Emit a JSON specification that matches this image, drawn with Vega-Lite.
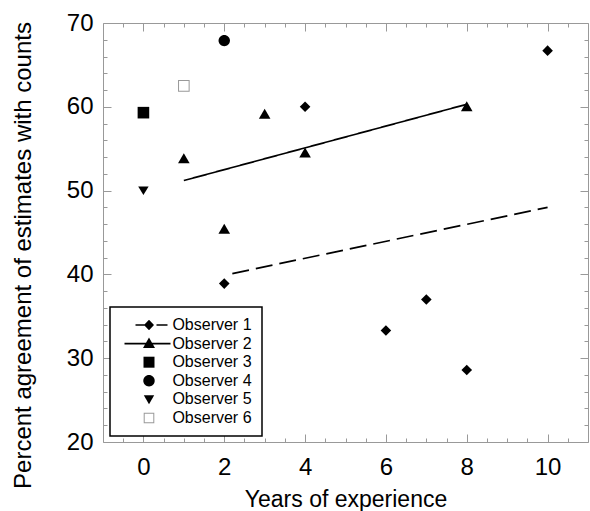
{
  "$schema": "https://vega.github.io/schema/vega-lite/v6.json",
  "width": 485,
  "height": 419,
  "autosize": {"type": "none"},
  "padding": {"left": 103, "top": 23, "right": 2, "bottom": 69},
  "background": "white",
  "datasets": {
    "pts": [
      {"observer": "Observer 1", "years": 2, "pct": 38.9},
      {"observer": "Observer 1", "years": 4, "pct": 60.0},
      {"observer": "Observer 1", "years": 6, "pct": 33.3},
      {"observer": "Observer 1", "years": 7, "pct": 37.0},
      {"observer": "Observer 1", "years": 8, "pct": 28.6},
      {"observer": "Observer 1", "years": 10, "pct": 66.7},
      {"observer": "Observer 2", "years": 1, "pct": 53.8},
      {"observer": "Observer 2", "years": 2, "pct": 45.4},
      {"observer": "Observer 2", "years": 3, "pct": 59.1},
      {"observer": "Observer 2", "years": 4, "pct": 54.5},
      {"observer": "Observer 2", "years": 8, "pct": 60.0},
      {"observer": "Observer 3", "years": 0, "pct": 59.3},
      {"observer": "Observer 4", "years": 2, "pct": 67.9},
      {"observer": "Observer 5", "years": 0, "pct": 50.0},
      {"observer": "Observer 6", "years": 1, "pct": 62.5}
    ],
    "fits": [
      {"observer": "Observer 1", "years": 2.2, "pct": 40.1},
      {"observer": "Observer 1", "years": 10, "pct": 48.0},
      {"observer": "Observer 2", "years": 1, "pct": 51.2},
      {"observer": "Observer 2", "years": 8, "pct": 60.3}
    ]
  },
  "config": {
    "view": {"stroke": "#999", "strokeWidth": 1},
    "axis": {
      "domain": false,
      "grid": false,
      "tickColor": "#999",
      "tickWidth": 1,
      "labelFont": "Liberation Sans",
      "labelFontSize": 24,
      "labelColor": "black",
      "titleFont": "Liberation Sans",
      "titleFontWeight": "normal",
      "titleColor": "black"
    },
    "legend": {"strokeWidth": 1.5}
  },
  "resolve": {
    "scale": {"shape": "independent", "color": "independent"},
    "axis": {"x": "independent", "y": "independent"}
  },
  "layer": [
    {
      "data": {"name": "fits"},
      "mark": {"type": "line", "color": "black", "strokeWidth": 1.7},
      "encoding": {
        "x": {
          "field": "years", "type": "quantitative",
          "scale": {"domain": [-1, 11], "nice": false, "zero": false},
          "axis": {
            "orient": "bottom", "values": [0, 2, 4, 6, 8, 10], "tickSize": -8,
            "labelPadding": 21, "title": "Years of experience", "titleFontSize": 23,
            "titleY": 64, "titleBaseline": "alphabetic"
          }
        },
        "y": {
          "field": "pct", "type": "quantitative",
          "scale": {"domain": [20, 70], "nice": false, "zero": false},
          "axis": {
            "orient": "left", "values": [20, 30, 40, 50, 60, 70], "tickSize": -8,
            "labelPadding": 18, "title": "Percent agreement of estimates with counts",
            "titleFontSize": 24, "titleX": -73, "titleY": 232, "titleAngle": -90,
            "titleBaseline": "alphabetic", "titleAlign": "center"
          }
        },
        "strokeDash": {
          "field": "observer", "type": "nominal",
          "scale": {"domain": ["Observer 1", "Observer 2"], "range": [[17, 7], [1, 0]]},
          "legend": null
        }
      }
    },
    {
      "data": {"name": "pts"},
      "mark": {"type": "point", "filled": true, "size": 4, "opacity": 1, "strokeWidth": 0},
      "encoding": {
        "x": {
          "field": "years", "type": "quantitative",
          "scale": {"domain": [-1, 11], "nice": false, "zero": false},
          "axis": {
            "orient": "bottom", "values": [-0.5, 0.5, 1, 1.5, 2.5, 3, 3.5, 4.5, 5, 5.5, 6.5, 7, 7.5, 8.5, 9, 9.5, 10.5],
            "tickSize": -4, "labels": false, "title": null
          }
        },
        "y": {
          "field": "pct", "type": "quantitative",
          "scale": {"domain": [20, 70], "nice": false, "zero": false},
          "axis": {
            "orient": "left", "values": [22, 24, 26, 28, 32, 34, 36, 38, 42, 44, 46, 48, 52, 54, 56, 58, 62, 64, 66, 68],
            "tickSize": -4, "labels": false, "title": null
          }
        },
        "shape": {
          "field": "observer", "type": "nominal",
          "scale": {
            "domain": ["Observer 1", "Observer 2", "Observer 3", "Observer 4", "Observer 5", "Observer 6"],
            "range": [
              "M-5.3,0L0,-5.3L5.3,0L0,5.3Z",
              "M0,-5.5L5.8,4.5L-5.8,4.5Z",
              "M-5.8,-5.8H5.8V5.8H-5.8Z",
              "M-5.7,0A5.7,5.7,0,1,1,5.7,0A5.7,5.7,0,1,1,-5.7,0Z",
              "M-5.2,-4H5.2L0,4.5Z",
              "M-5.8,-5.8H5.8V5.8H-5.8Z M-4.8,-4.8V4.8H4.8V-4.8Z"
            ]
          },
          "legend": null
        },
        "color": {
          "field": "observer", "type": "nominal",
          "scale": {
            "domain": ["Observer 1", "Observer 2", "Observer 3", "Observer 4", "Observer 5", "Observer 6"],
            "range": ["black", "black", "black", "black", "black", "#999999"]
          },
          "legend": null
        }
      }
    },
    {
      "data": {"name": "pts"},
      "mark": {"type": "point", "filled": true, "size": 4, "opacity": 0},
      "encoding": {
        "x": {
          "field": "years", "type": "quantitative",
          "scale": {"domain": [-1, 11], "nice": false, "zero": false},
          "axis": {"orient": "top", "values": [0, 2, 4, 6, 8, 10], "tickSize": -8, "labels": false, "title": null}
        },
        "y": {
          "field": "pct", "type": "quantitative",
          "scale": {"domain": [20, 70], "nice": false, "zero": false},
          "axis": {"orient": "right", "values": [20, 30, 40, 50, 60, 70], "tickSize": -8, "labels": false, "title": null}
        },
        "shape": {
          "field": "observer", "type": "nominal",
          "scale": {
            "domain": ["Observer 1", "Observer 2", "Observer 3", "Observer 4", "Observer 5", "Observer 6"],
            "range": [
              "M-13.5,-0.8H-4V0.8H-13.5Z M-5,0L0,-5.3L5,0L0,5.3Z M7.5,-0.8H18.5V0.8H7.5Z",
              "M-24.5,-0.8H21.5V0.8H-24.5Z M0,-6L6,4.5L-6,4.5Z",
              "M-5.5,-5.5H5.5V5.5H-5.5Z",
              "M-5.7,0A5.7,5.7,0,1,1,5.7,0A5.7,5.7,0,1,1,-5.7,0Z",
              "M-5.2,-4.2H5.2L0,4.8Z",
              "M-5.3,-5.3H5.3V5.3H-5.3Z M-4.3,-4.3V4.3H4.3V-4.3Z"
            ]
          },
          "legend": {
            "orient": "none", "legendX": 7, "legendY": 284, "title": null,
            "symbolOpacity": 1, "symbolSize": 4, "symbolStrokeWidth": 0,
            "symbolOffset": 21, "labelOffset": 15.4, "padding": 10, "rowPadding": 2.6,
            "strokeColor": "black", "fillColor": "white",
            "labelFont": "Liberation Sans", "labelFontSize": 16, "labelColor": "black", "labelLimit": 300
          }
        },
        "color": {
          "field": "observer", "type": "nominal",
          "scale": {
            "domain": ["Observer 1", "Observer 2", "Observer 3", "Observer 4", "Observer 5", "Observer 6"],
            "range": ["black", "black", "black", "black", "black", "#999999"]
          },
          "legend": {
            "orient": "none", "legendX": 7, "legendY": 284, "title": null,
            "symbolOpacity": 1, "symbolSize": 4, "symbolStrokeWidth": 0,
            "symbolOffset": 21, "labelOffset": 15.4, "padding": 10, "rowPadding": 2.6,
            "strokeColor": "black", "fillColor": "white",
            "labelFont": "Liberation Sans", "labelFontSize": 16, "labelColor": "black", "labelLimit": 300
          }
        }
      }
    },
    {
      "data": {"name": "pts"},
      "mark": {"type": "point", "filled": true, "size": 4, "opacity": 0},
      "encoding": {
        "x": {
          "field": "years", "type": "quantitative",
          "scale": {"domain": [-1, 11], "nice": false, "zero": false},
          "axis": {
            "orient": "top", "values": [-0.5, 0.5, 1, 1.5, 2.5, 3, 3.5, 4.5, 5, 5.5, 6.5, 7, 7.5, 8.5, 9, 9.5, 10.5],
            "tickSize": -4, "labels": false, "title": null
          }
        },
        "y": {
          "field": "pct", "type": "quantitative",
          "scale": {"domain": [20, 70], "nice": false, "zero": false},
          "axis": {
            "orient": "right", "values": [22, 24, 26, 28, 32, 34, 36, 38, 42, 44, 46, 48, 52, 54, 56, 58, 62, 64, 66, 68],
            "tickSize": -4, "labels": false, "title": null
          }
        }
      }
    }
  ]
}
